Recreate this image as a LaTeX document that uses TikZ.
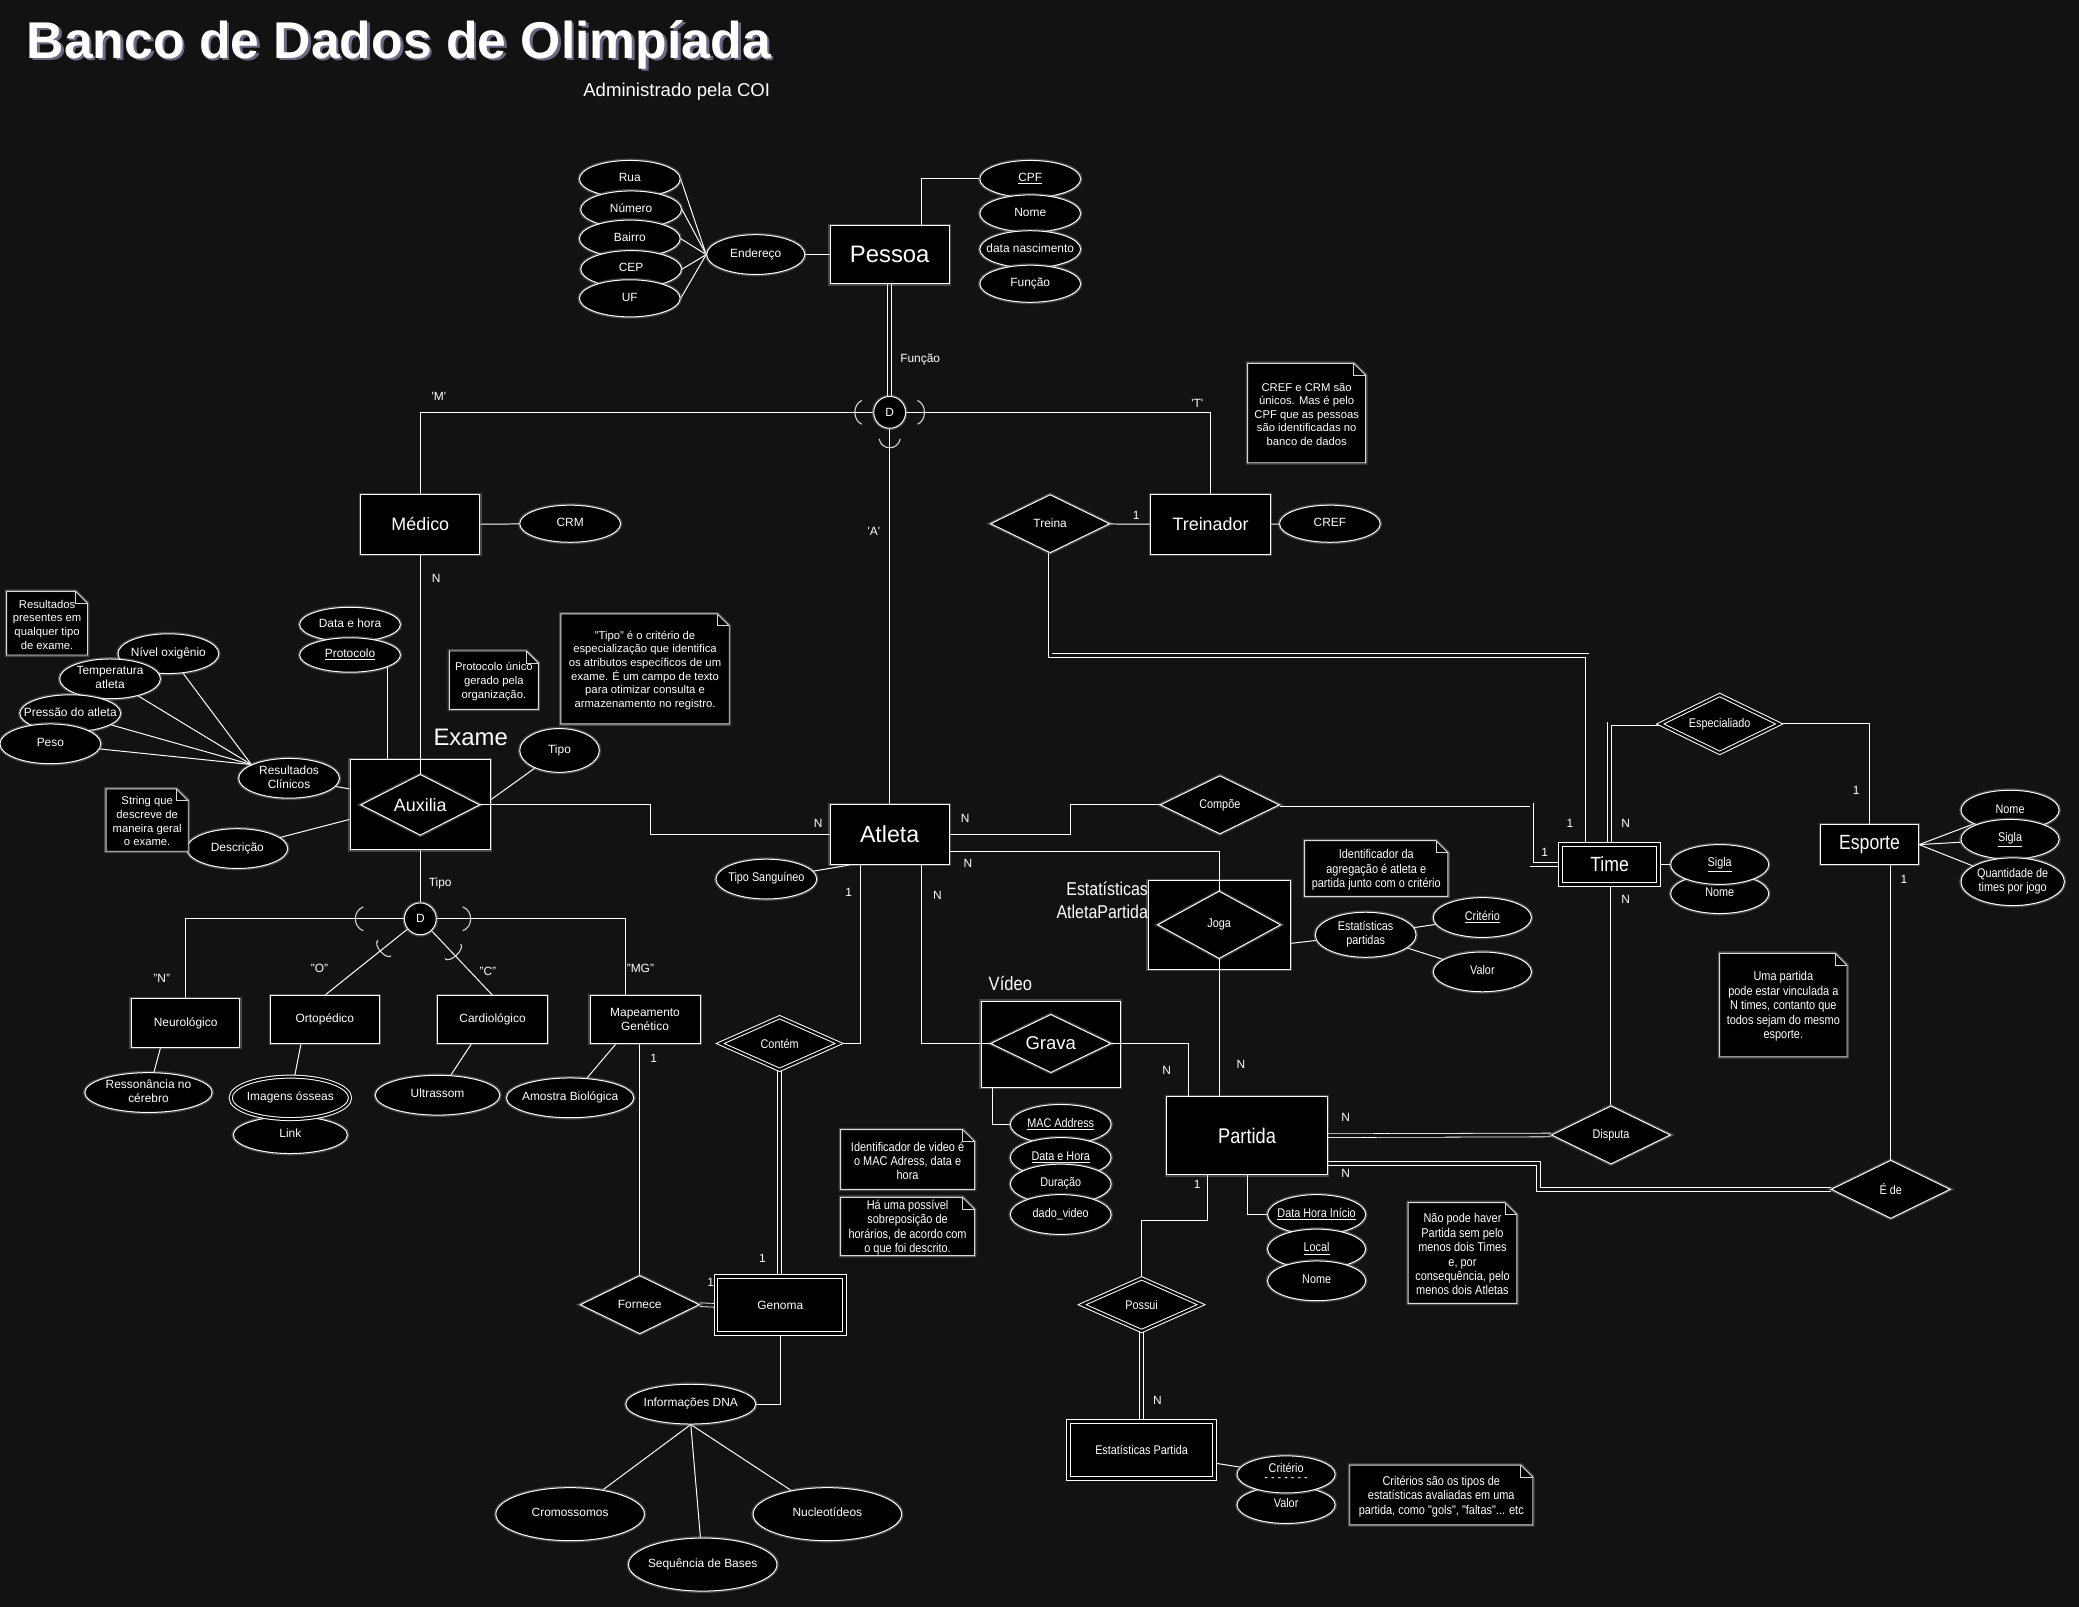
\documentclass[tikz,border=0pt]{standalone}
\usepackage{fontspec}
\setmainfont{Liberation Sans}
\newfontfamily\narrowfont{Liberation Sans}[FakeStretch=0.86]
\usetikzlibrary{shapes.geometric}
\definecolor{bgc}{HTML}{121212}
\pgfdeclarelayer{bglayer}
\pgfdeclarelayer{lines}
\pgfsetlayers{bglayer,lines,main}
\newcommand\zt[1]{\makebox[0pt]{\begin{tabular}{@{}c@{}}#1\end{tabular}}}
\newcommand\myfs[2]{\fontsize{#1}{#2}\selectfont}
\newcommand\notebox[7][]{%
  \draw[notebg] (#3,#4) -- ({#5-9},#4) -- (#5,{#4+9}) -- (#5,#6) -- (#3,#6) -- cycle;
  \draw[draw=white!85!black, line width=0.6pt] ({#5-9},#4) -- ({#5-9},{#4+9}) -- (#5,{#4+9});
  \node[notetx,#1] (#2) at ({(#3+#5)/2},{(#4+#6)/2+1}) {#7};}
\begin{document}
\begin{tikzpicture}[x=1pt, y=-1pt,
  glow/.style={preaction={draw=white!60!black, line width=2.8pt, opacity=0.4}},
  box/.style={draw=white, fill=black, line width=0.75pt, text=white, glow},
  ent/.style={box, rectangle, inner sep=1pt, align=center},
  weak/.style={ent, double=black, double distance=2.2pt},
  attr/.style={box, ellipse, inner sep=0pt, minimum width=76pt, minimum height=28pt, font=\myfs{9}{10.5}},
  rel/.style={box, diamond, aspect=2, inner sep=0pt, minimum width=90pt, minimum height=44pt, font=\myfs{9}{10.5}},
  idrel/.style={rel, double=black, double distance=1.6pt},
  agg/.style={box, rectangle, inner sep=0pt},
  spec/.style={box, circle, inner sep=0pt, minimum size=24pt, font=\myfs{9}{10}},
  conn/.style={draw=white, line width=0.75pt},
  dconn/.style={draw=white, line width=0.6pt, double=bgc, double distance=2.2pt},
  lbl/.style={text=white, inner sep=0pt, font=\myfs{9}{10}},
  nar/.style={font=\narrowfont\myfs{9.5}{11}},
  notebg/.style={draw=white!85!black, fill=black, line width=0.7pt, glow},
  notetx/.style={text=white, align=center, inner sep=0pt, font=\myfs{8.5}{10.3}},
  nnar/.style={font=\narrowfont\myfs{9.6}{10.9}},
  brk/.style={draw=white!85!black, line width=0.8pt}]

\begin{pgfonlayer}{bglayer}
\fill[bgc] (0,0) rectangle (1568,1212);
\end{pgfonlayer}
\useasboundingbox (0,0) rectangle (1568,1212);

% ---------- title ----------
\node[anchor=base west, inner sep=0pt, text={rgb,255:red,105;green,105;blue,130}, font=\bfseries\myfs{39}{44}] (titlesh) at (22,46) {Banco de Dados de Olimpíada};
\node[anchor=base west, inner sep=0pt, text=white, font=\bfseries\myfs{39}{44}] (title) at (20,44) {Banco de Dados de Olimpíada};
\node[anchor=base east, inner sep=0pt, text=white, font=\myfs{14}{16}] (subtitle) at (581,73) {Administrado pela COI};

% ---------- Pessoa ----------
\node[ent, minimum width=90pt, minimum height=44pt, font=\myfs{18}{20}] (pessoa) at (671,192) {Pessoa};
\node[attr, minimum width=74pt, minimum height=30pt] (endereco) at (570,192) {\zt{Endereço}};
\node[attr] (rua) at (475,135) {\zt{Rua}};
\node[attr] (numero) at (476,158) {\zt{Número}};
\node[attr] (bairro) at (475,180) {\zt{Bairro}};
\node[attr] (cep) at (476,203) {\zt{CEP}};
\node[attr] (uf) at (475,225) {\zt{UF}};
\node[attr] (cpf) at (777,135) {\zt{\underline{CPF}}};
\node[attr] (nome) at (777,161) {\zt{Nome}};
\node[attr] (nasc) at (777,188) {\zt{data nascimento}};
\node[attr] (funcao) at (777,214) {\zt{Função}};

\node[spec] (d1) at (671,311) {D};

% ---------- Medico / Treinador ----------
\node[ent, minimum width=90pt, minimum height=45pt, font=\myfs{13.5}{15}] (medico) at (317,395.5) {Médico};
\node[attr] (crm) at (430,395) {\zt{CRM}};
\node[rel] (treina) at (792,395) {Treina};
\node[ent, minimum width=90pt, minimum height=45pt, font=\myfs{13.5}{15}] (treinador) at (913,395.5) {Treinador};
\node[attr] (cref) at (1003,395) {\zt{CREF}};

% ---------- Exame ----------
\node[agg, minimum width=106pt, minimum height=68pt] (exame) at (317,607) {};
\node[rel, minimum width=90pt, minimum height=46pt, font=\myfs{13.5}{15}] (auxd) at (317,607) {Auxilia};
\node[text=white, inner sep=0pt, font=\myfs{18}{20}] (lexame) at (355,556) {Exame};
\node[attr, minimum height=26pt] (datahora) at (264,471) {\zt{Data e hora}};
\node[attr, minimum height=26pt] (protocolo) at (264,494) {\zt{\underline{Protocolo}}};
\node[attr, minimum width=60pt, minimum height=33pt] (tipoex) at (422,566) {\zt{Tipo}};
\node[attr, minimum height=30pt] (nivel) at (127,493) {\zt{Nível oxigênio}};
\node[attr, minimum height=30pt] (temp) at (83,512) {\zt{Temperatura\\atleta}};
\node[attr, minimum height=28pt] (pressao) at (53,538) {\zt{Pressão do atleta}};
\node[attr, minimum height=30pt] (peso) at (38,561) {\zt{Peso}};
\node[attr, minimum height=30pt] (resclin) at (218,587) {\zt{Resultados\\Clínicos}};
\node[attr, minimum height=30pt] (descricao) at (179,640) {\zt{Descrição}};

\node[spec] (d2) at (317,693) {D};
\node[ent, minimum width=82pt, minimum height=37pt, font=\myfs{9}{11}] (neuro) at (140,771.5) {Neurológico};
\node[ent, minimum width=82pt, minimum height=36pt, font=\myfs{9}{11}] (orto) at (245,769) {Ortopédico};
\node[ent, minimum width=83pt, minimum height=36pt, font=\myfs{9}{11}] (cardio) at (371.5,769) {Cardiológico};
\node[ent, minimum width=83pt, minimum height=36pt, font=\myfs{9}{11}] (mapa) at (486.5,769) {Mapeamento\\Genético};
\node[attr, minimum width=96pt, minimum height=30pt] (resson) at (112,824) {\zt{Ressonância no\\cérebro}};
\node[attr, minimum width=86pt, minimum height=28pt] (link) at (219,856) {\zt{Link}};
\node[attr, minimum width=90pt, minimum height=32pt, double=black, double distance=1.5pt] (imagens) at (219,828) {\zt{Imagens ósseas}};
\node[attr, minimum width=94pt, minimum height=30pt] (ultrassom) at (330,826) {\zt{Ultrassom}};
\node[attr, minimum width=96pt, minimum height=30pt] (amostra) at (430,828) {\zt{Amostra Biológica}};
\node[rel] (fornece) at (482.5,984) {Fornece};
\node[weak, minimum width=97pt, minimum height=43pt, font=\myfs{9}{11}] (genoma) at (588.5,984.5) {Genoma};
\node[attr, minimum width=98pt, minimum height=30pt] (infodna) at (521,1059) {\zt{Informações DNA}};
\node[attr, minimum width=112pt, minimum height=40pt] (crom) at (430,1142) {\zt{Cromossomos}};
\node[attr, minimum width=112pt, minimum height=40pt] (nucl) at (624,1142) {\zt{Nucleotídeos}};
\node[attr, minimum width=112pt, minimum height=40pt] (seq) at (530,1180) {\zt{Sequência de Bases}};

% ---------- Atleta ----------
\node[ent, minimum width=90pt, minimum height=45pt, font=\myfs{17.5}{20}] (atleta) at (671,629.5) {Atleta};
\node[attr, nar, minimum height=30pt] (sangue) at (578,663) {\zt{Tipo Sanguíneo}};
\node[rel, nar] (compoe) at (920,607) {Compõe};
\node[agg, minimum width=107pt, minimum height=67pt] (joga) at (919.5,697.5) {};
\node[rel, nar, minimum width=93pt, minimum height=51pt] (jogad) at (919.5,697.5) {Joga};
\node[anchor=east, text=white, align=right, inner sep=0pt, font=\narrowfont\myfs{14}{17}] (lestat) at (866,679) {Estatísticas\\AtletaPartida};
\node[attr, nar, minimum height=34pt] (estpart) at (1030,705) {\zt{Estatísticas\\partidas}};
\node[attr, nar, minimum width=74pt, minimum height=30pt] (criterio1) at (1118,692) {\zt{\underline{Critério}}};
\node[attr, nar, minimum width=74pt, minimum height=30pt] (valor1) at (1118,733) {\zt{Valor}};
\node[idrel, nar, minimum height=40pt] (contem) at (588,787) {Contém};
\node[agg, minimum width=105pt, minimum height=65pt] (video) at (792.5,787.5) {};
\node[rel, minimum width=91pt, minimum height=44pt, font=\myfs{14}{16}] (gravad) at (792.5,787) {Grava};
\node[text=white, inner sep=0pt, font=\narrowfont\myfs{14.5}{16}] (lvideo) at (762,742) {Vídeo};
\node[attr, nar, minimum height=30pt] (mac) at (800,848) {\zt{\underline{MAC Address}}};
\node[attr, nar, minimum height=30pt] (dh2) at (800,873) {\zt{\underline{Data e Hora}}};
\node[attr, nar, minimum height=30pt] (duracao) at (800,893) {\zt{Duração}};
\node[attr, nar, minimum height=30pt] (dadovideo) at (800,916) {\zt{dado\_video}};

% ---------- Partida ----------
\node[ent, minimum width=121pt, minimum height=59pt, font=\narrowfont\myfs{16}{18}] (partida) at (940.5,856.5) {Partida};
\node[rel, nar] (disputa) at (1215,856) {Disputa};
\node[rel, nar] (ede) at (1426,897) {É de};
\node[attr, nar, minimum width=74pt, minimum height=30pt] (dhinicio) at (993,916) {\zt{\underline{Data Hora Início}}};
\node[attr, nar, minimum width=74pt, minimum height=30pt] (local) at (993,942) {\zt{\underline{Local}}};
\node[attr, nar, minimum width=74pt, minimum height=30pt] (nomepart) at (993,966) {\zt{Nome}};
\node[idrel, nar, minimum height=40pt] (possui) at (861,984) {Possui};
\node[weak, minimum width=110pt, minimum height=43pt, font=\narrowfont\myfs{9.5}{11}] (estpartida) at (861,1093.5) {Estatísticas Partida};
\node[attr, nar, minimum width=74pt, minimum height=28pt] (valor2) at (970,1135) {\zt{Valor}};
\node[attr, nar, minimum width=74pt, minimum height=28pt] (criterio2) at (970,1112) {\zt{Critério\\[-4pt]- - - - - - -}};

% ---------- Time / Esporte ----------
\node[weak, minimum width=74pt, minimum height=30pt, font=\narrowfont\myfs{15.5}{17}] (time) at (1214,652) {Time};
\node[attr, nar, minimum width=74pt, minimum height=30pt] (nome2) at (1297,674) {\zt{Nome}};
\node[attr, nar, minimum width=74pt, minimum height=30pt] (sigla) at (1297,652) {\zt{\underline{Sigla}}};
\node[idrel, nar] (espec) at (1297,546) {Especialiado};
\node[ent, minimum width=74pt, minimum height=30pt, font=\narrowfont\myfs{15.5}{17}] (esporte) at (1410,637) {Esporte};
\node[attr, nar, minimum width=74pt, minimum height=30pt] (nomeesp) at (1516,611) {\zt{Nome}};
\node[attr, nar, minimum width=74pt, minimum height=30pt] (siglaesp) at (1516,633) {\zt{\underline{Sigla}}};
\node[attr, nar, minimum width=78pt, minimum height=36pt] (qtd) at (1518,665) {\zt{Quantidade de\\times por jogo}};

% ---------- connectors behind nodes ----------
\begin{pgfonlayer}{lines}
\draw[conn] (endereco.west) -- (rua.east);
\draw[conn] (endereco.west) -- (numero.east);
\draw[conn] (endereco.west) -- (bairro.east);
\draw[conn] (endereco.west) -- (cep.east);
\draw[conn] (endereco.west) -- (uf.east);
\draw[conn] (endereco) -- (pessoa);
\draw[conn] ([xshift=24pt]pessoa.north) |- (cpf);
\draw[dconn] (pessoa.south) -- (d1.north);
\draw[conn] (d1.west) -| (medico.north);
\draw[conn] (d1.east) -| (treinador.north);
\draw[conn] (d1.south) -- (atleta.north);
\draw[conn] (medico) -- (crm);
\draw[conn] (treina) -- (treinador);
\draw[conn] (treinador) -- (cref);
\draw[dconn] (treina.south) -- ++(0,77) -| ([xshift=-17pt]time.north);
\draw[conn] ([xshift=-25pt]exame.north) -- ([xshift=28pt]protocolo.center);
\draw[conn] ([yshift=4pt]exame.east) -- (tipoex);
\draw[conn] ([yshift=12pt]exame.west) -- (resclin);
\draw[conn] ([yshift=-11pt]exame.west) -- (descricao);
\draw[conn] (resclin.160) -- (nivel);
\draw[conn] (resclin.160) -- (temp);
\draw[conn] (resclin.160) -- (pressao);
\draw[conn] (resclin.160) -- (peso);
\draw[conn] (exame.south) -- (d2.north);
\draw[conn] (d2.west) -| (neuro.north);
\draw[conn] (d2.east) -| ([xshift=-15pt]mapa.north);
\draw[conn] (d2) -- (orto.north);
\draw[conn] (d2) -- (cardio.north);
\draw[conn] ([xshift=-19pt]neuro.south) -- (resson);
\draw[conn] ([xshift=-18pt]orto.south) -- (imagens);
\draw[conn] ([xshift=-16pt]cardio.south) -- (ultrassom);
\draw[conn] ([xshift=-22pt]mapa.south) -- (amostra);
\draw[conn] ([xshift=-4pt]mapa.south) -- ([xshift=-4pt]mapa.south |- fornece.north);
\draw[dconn] (fornece.east) -- (genoma.west);
\draw[conn] (genoma.south) |- (infodna);
\draw[conn] (infodna.south) -- (crom);
\draw[conn] (infodna.south) -- (seq);
\draw[conn] (infodna.south) -- (nucl);
\draw[conn] (sangue) -- ([xshift=-30pt]atleta.south);
\draw[conn] (atleta.east) -- ++(91,0) |- (compoe.west);
\draw[dconn] (compoe.east) -- ++(190,0) |- (time.west);
\draw[conn] ([xshift=-22pt]atleta.south) |- (contem.east);
\draw[dconn] (contem.south) -- (contem.south |- genoma.north);
\draw[conn] ([xshift=-44pt]video.south) |- (mac);
\draw[conn] ([yshift=-14pt]joga.east) -- (estpart);
\draw[conn] (estpart) -- (criterio1);
\draw[conn] (estpart) -- (valor1);
\draw[dconn] (partida.east) -- (disputa.west);
\draw[dconn] ([yshift=-21pt]partida.east) -- ++(159,0) |- (ede.west);
\draw[conn] (disputa.north) -- (disputa.north |- time.south);
\draw[conn] (ede.north) -- (ede.north |- esporte.south);
\draw[conn] ([xshift=-30pt]partida.south) -- ++(0,34) -| (possui.north);
\draw[conn] (partida.south) |- (dhinicio);
\draw[dconn] (possui.south) -- (possui.south |- estpartida.north);
\draw[conn] ([yshift=-10pt]estpartida.east) -- (criterio2);
\draw[conn] (time) -- (sigla);
\draw[dconn] (espec.west) -| (time.north);
\draw[conn] (espec.east) -| (esporte.north);
\draw[conn] (esporte.east) -- (nomeesp);
\draw[conn] (esporte.east) -- (siglaesp);
\draw[conn] (esporte.east) -- (qtd);
\end{pgfonlayer}

% ---------- connectors through aggregations ----------
\draw[conn] (medico.south) -- (auxd.north);
\draw[conn] (auxd.east) -- ++(128,0) |- (atleta.west);
\draw[conn] ([yshift=-13pt]atleta.east) -| (jogad.north);
\draw[conn] (jogad.south) -- (jogad.south |- partida.north);
\draw[conn] ([xshift=24pt]atleta.south) |- (gravad.west);
\draw[conn] (gravad.east) -| ([xshift=-44pt]partida.north);

% ---------- specialization arcs ----------
\draw[brk] (650,302) .. controls (643,305) and (643,317) .. (650,320);
\draw[brk] (692,302) .. controls (699,305) and (699,317) .. (692,320);
\draw[brk] (663,331) .. controls (665,340) and (677,340) .. (679,331);
\draw[brk] (274,684) .. controls (266,687) and (266,699) .. (274,702);
\draw[brk] (349,684) .. controls (357,687) and (357,699) .. (349,702);
\draw[brk] (285,709) .. controls (281,713) and (291,724) .. (295,721);
\draw[brk] (347.5,712) .. controls (351,716) and (339,727) .. (335.5,723);

% ---------- notes ----------
\notebox{n1}{5}{446}{66}{494}{Resultados\\presentes em\\qualquer tipo\\de exame.}
\notebox{n2}{339}{491}{406}{535}{Protocolo único\\gerado pela\\organização.}
\notebox{n3}{423}{463}{550}{546}{"Tipo" é o critério de\\especialização que identifica\\os atributos específicos de um\\exame. É um campo de texto\\para otimizar consulta e\\armazenamento no registro.}
\notebox{n4}{80}{595}{142}{642}{String que\\descreve de\\maneira geral\\o exame.}
\notebox{n5}{941}{274}{1030}{349}{CREF e CRM são\\únicos. Mas é pelo\\CPF que as pessoas\\são identificadas no\\banco de dados}
\notebox[nnar]{n6}{984}{634}{1092}{676}{Identificador da\\agregação é atleta e\\partida junto com o critério}
\notebox[nnar]{n7}{634}{852}{735}{897}{Identificador de video é\\o MAC Adress, data e\\hora}
\notebox[nnar]{n8}{634}{903}{735}{947}{Há uma possível\\sobreposição de\\horários, de acordo com\\o que foi descrito.}
\notebox[nnar]{n9}{1062}{907}{1144}{983}{Não pode haver\\Partida sem pelo\\menos dois Times\\e, por\\consequência, pelo\\menos dois Atletas}
\notebox[nnar]{n10}{1297}{719}{1393}{797}{Uma partida\\pode estar vinculada a\\N times, contanto que\\todos sejam do mesmo\\esporte.}
\notebox[nnar]{n11}{1018}{1105}{1156}{1150}{Critérios são os tipos de\\estatísticas avaliadas em uma\\partida, como "gols", "faltas"... etc}

% ---------- labels ----------
\node[lbl] (lfun) at (694,271) {Função};
\node[lbl] (lm) at (331,299) {\textquotesingle M\textquotesingle};
\node[lbl] (lt) at (903,304) {\textquotesingle T\textquotesingle};
\node[lbl] (la) at (659,401) {\textquotesingle A\textquotesingle};
\node[lbl] (c1) at (857,389) {1};
\node[lbl] (c2) at (329,436) {N};
\node[lbl] (c3) at (617,621) {N};
\node[lbl] (c4) at (728,617) {N};
\node[lbl] (c5) at (1165,643) {1};
\node[lbl] (c6) at (1184,621) {1};
\node[lbl] (c7) at (1226,621) {N};
\node[lbl] (c8) at (730,651) {N};
\node[lbl] (c9) at (640,673) {1};
\node[lbl] (c10) at (707,675) {N};
\node[lbl] (c11) at (936,803) {N};
\node[lbl] (c12) at (880,807) {N};
\node[lbl] (c13) at (575,949) {1};
\node[lbl] (c14) at (536,967) {1};
\node[lbl] (c15) at (493,798) {1};
\node[lbl] (c16) at (1015,843) {N};
\node[lbl] (c17) at (1015,885) {N};
\node[lbl] (c18) at (1226,678) {N};
\node[lbl] (c19) at (1400,596) {1};
\node[lbl] (c20) at (1436,663) {1};
\node[lbl] (c21) at (903,893) {1};
\node[lbl] (c22) at (873,1056) {N};
\node[lbl] (ltipo) at (332,666) {Tipo};
\node[lbl] (sn) at (122,738) {"N"};
\node[lbl] (so) at (241,730) {"O"};
\node[lbl] (sc) at (368,733) {"C"};
\node[lbl] (smg) at (483,730) {"MG"};
\end{tikzpicture}
\end{document}
